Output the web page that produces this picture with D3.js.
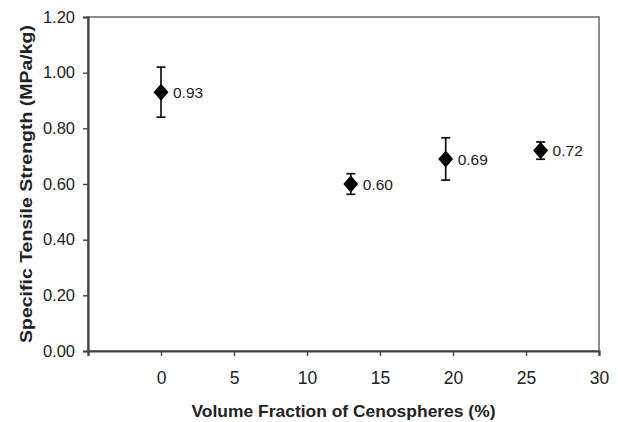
<!DOCTYPE html>
<html>
<head>
<meta charset="utf-8">
<script src="https://cdn.jsdelivr.net/npm/d3@7"></script>
<style>
  html, body { margin: 0; padding: 0; background: #fff; }
  svg { display: block; font-family: "Liberation Sans", Arial, sans-serif; }
</style>
</head>
<body>
<svg id="chart" width="618" height="422"></svg>
<script>
// Cenosphere volume fraction (%) vs. specific tensile strength (MPa/kg)
const fractions = [0, 13, 19.5, 26];
const strengths = [0.93, 0.60, 0.69, 0.72];
const errors = [0.09, 0.037, 0.076, 0.031];
const xTicks = [0, 5, 10, 15, 20, 25, 30];
const yTicks = [0, 0.2, 0.4, 0.6, 0.8, 1.0, 1.2];
const xTitle = "Volume Fraction of Cenospheres (%)";
const yTitle = "Specific Tensile Strength (MPa/kg)";

const svg = d3.select("#chart");
const plotLeft = 88, plotRight = 599, plotTop = 17, plotBottom = 351;
const font = "'Liberation Sans', Arial, sans-serif";

const x = d3.scaleLinear().domain([-5, 30]).range([plotLeft, plotRight]);
const y = d3.scaleLinear().domain([0, 1.2]).range([plotBottom, plotTop]);

// Plot frame
svg.append("rect")
  .attr("x", plotLeft).attr("y", plotTop)
  .attr("width", plotRight - plotLeft).attr("height", plotBottom - plotTop)
  .attr("fill", "none").attr("stroke", "#707070").attr("stroke-width", 1.6);

// Axes
const xAxis = d3.axisBottom(x).tickValues([-5].concat(xTicks)).tickSize(5).tickPadding(16)
  .tickFormat(d => d < 0 ? "" : d3.format("d")(d));
const gx = svg.append("g").attr("transform", `translate(0,${plotBottom})`).call(xAxis);
gx.select(".domain").attr("stroke", "#444").attr("stroke-width", 2.2);
gx.selectAll(".tick line").attr("stroke", "#444").attr("stroke-width", 1.4);
gx.selectAll(".tick text").attr("font-size", 17.5).attr("fill", "#222").attr("font-family", font);

const yAxis = d3.axisLeft(y).tickValues(yTicks).tickSize(5).tickPadding(8)
  .tickFormat(d3.format(".2f"));
const gy = svg.append("g").attr("transform", `translate(${plotLeft},0)`).call(yAxis);
gy.select(".domain").attr("stroke", "#444").attr("stroke-width", 2.2);
gy.selectAll(".tick line").attr("stroke", "#444").attr("stroke-width", 1.4);
gy.selectAll(".tick text").attr("font-size", 16.5).attr("fill", "#222").attr("font-family", font);

// Axis titles
svg.append("text")
  .attr("x", (plotLeft + plotRight) / 2).attr("y", 417)
  .attr("text-anchor", "middle")
  .attr("font-size", 16.5).attr("font-weight", "bold").attr("fill", "#222")
  .attr("textLength", 304).attr("lengthAdjust", "spacingAndGlyphs")
  .text(xTitle);

svg.append("text")
  .attr("transform", `translate(32,${(plotTop + plotBottom) / 2}) rotate(-90)`)
  .attr("text-anchor", "middle")
  .attr("font-size", 16.5).attr("font-weight", "bold").attr("fill", "#222")
  .attr("textLength", 318).attr("lengthAdjust", "spacingAndGlyphs")
  .text(yTitle);

const data = fractions.map((f, i) => ({ f, v: strengths[i], e: errors[i] }));

// Error bars
const cap = 4.5;
const eb = svg.append("g").attr("stroke", "#111").attr("stroke-width", 1.7).attr("fill", "none");
data.forEach(d => {
  const cx = x(d.f);
  eb.append("line").attr("x1", cx).attr("x2", cx).attr("y1", y(d.v + d.e)).attr("y2", y(d.v - d.e));
  eb.append("line").attr("x1", cx - cap).attr("x2", cx + cap).attr("y1", y(d.v + d.e)).attr("y2", y(d.v + d.e));
  eb.append("line").attr("x1", cx - cap).attr("x2", cx + cap).attr("y1", y(d.v - d.e)).attr("y2", y(d.v - d.e));
});

// Diamond markers
const diamond = {
  draw(ctx) {
    const w = 7.5, h = 8.5;
    ctx.moveTo(0, -h); ctx.lineTo(w, 0); ctx.lineTo(0, h); ctx.lineTo(-w, 0); ctx.closePath();
  }
};
svg.append("g").selectAll("path").data(data).join("path")
  .attr("transform", d => `translate(${x(d.f)},${y(d.v)})`)
  .attr("d", d3.symbol().type(diamond)())
  .attr("fill", "#000");

// Value labels
svg.append("g").selectAll("text").data(data).join("text")
  .attr("x", d => x(d.f) + 12)
  .attr("y", d => y(d.v))
  .attr("dy", "0.36em")
  .attr("font-size", 15.5).attr("fill", "#222")
  .text(d => d3.format(".2f")(d.v));
</script>
</body>
</html>
